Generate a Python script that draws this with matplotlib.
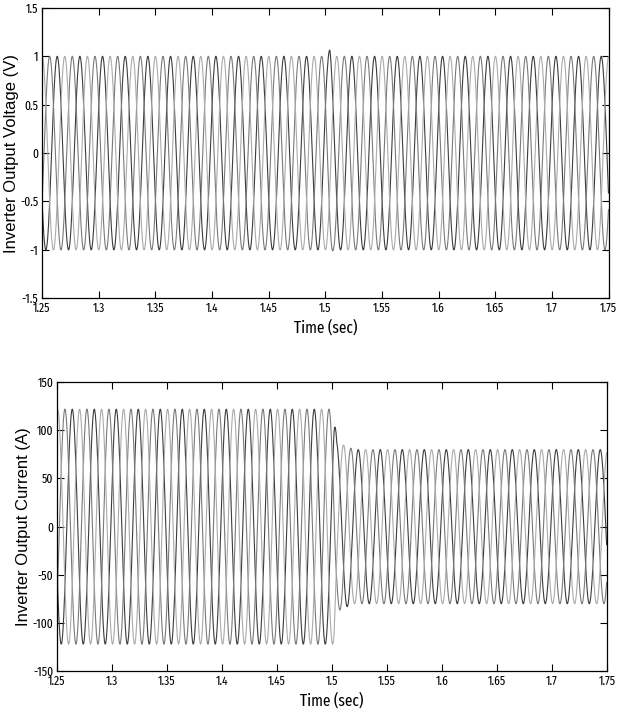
import numpy as np
import matplotlib
matplotlib.use("Agg")
import matplotlib.pyplot as plt

narrow = ['Fira Sans Extra Condensed', 'Archivo Narrow', 'DejaVu Sans']
plt.rcParams['font.family'] = narrow

# waveform parameters
freq = 50.0                      # Hz, about 3 peaks per 20 ms
phase_offsets = [0.08, 0.413, 0.747]   # fraction of a cycle, one per phase
phase_colors = ['#3c3c3c', '#7a7a7a', '#ababab']

# voltage envelope (p.u.) with small spike near t = 1.5 s
v_env_t = [1.25, 1.502, 1.504, 1.507, 1.75]
v_env_a = [1.0, 1.0, 1.08, 1.0, 1.0]

# current envelope (A): load step at 1.5 s
i_env_t = [1.25, 1.502, 1.5045, 1.52, 1.75]
i_env_a = [122.0, 122.0, 88.0, 80.0, 80.0]

time_ticks = [1.25, 1.3, 1.35, 1.4, 1.45, 1.5, 1.55, 1.6, 1.65, 1.7, 1.75]
time_labels = ['1.25', '1.3', '1.35', '1.4', '1.45', '1.5', '1.55', '1.6', '1.65', '1.7', '1.75']
v_ticks = [-1.5, -1, -0.5, 0, 0.5, 1, 1.5]
v_labels = ['-1.5', '-1', '-0.5', '0', '0.5', '1', '1.5']
i_ticks = [-150, -100, -50, 0, 50, 100, 150]
i_labels = ['-150', '-100', '-50', '0', '50', '100', '150']

t = np.arange(1.25, 1.75, 2.5e-4)

fig = plt.figure(figsize=(6.18, 7.17), dpi=100)
ax1 = fig.add_axes([0.068, 0.584, 0.917, 0.405])
ax2 = fig.add_axes([0.092, 0.064, 0.890, 0.403])

v_amp = np.interp(t, v_env_t, v_env_a)
i_amp = np.interp(t, i_env_t, i_env_a)
for off, col in zip(phase_offsets, phase_colors):
    ax1.plot(t, v_amp * np.sin(2 * np.pi * (freq * t + off)), color=col, lw=0.8)
    ax2.plot(t, i_amp * np.sin(2 * np.pi * (freq * t + off - 0.03)), color=col, lw=0.8)

for ax, yt, yl, ylim, ylabel in [
        (ax1, v_ticks, v_labels, (-1.5, 1.5), 'Inverter Output Voltage (V)'),
        (ax2, i_ticks, i_labels, (-150, 150), 'Inverter Output Current (A)')]:
    ax.set_xlim(1.25, 1.75)
    ax.set_ylim(*ylim)
    ax.set_xticks(time_ticks)
    ax.set_xticklabels(time_labels)
    ax.set_yticks(yt)
    ax.set_yticklabels(yl)
    ax.tick_params(direction='in', top=True, right=True, length=5, width=0.8,
                   labelsize=9)
    ax.tick_params(axis='x', pad=3)
    ax.tick_params(axis='y', pad=2.5)
    for s in ax.spines.values():
        s.set_linewidth(0.9)
    ax.set_xlabel('Time (sec)', fontsize=12, labelpad=3)
    ax.set_ylabel(ylabel, fontsize=12, family=['Liberation Sans', 'DejaVu Sans'],
                  labelpad=1)

fig.savefig('out.png', dpi=100)
